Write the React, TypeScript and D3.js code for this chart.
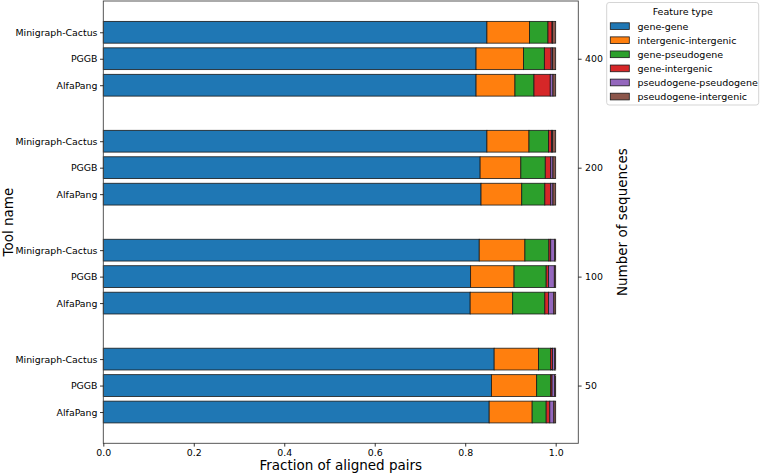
import React, { useRef, useEffect } from "react";
import * as d3 from "d3";

// rows from top to bottom: 400, 200, 100, 50 sequences; each with MC, PGGB, AlfaPang
const sequenceCounts = [400, 200, 100, 50];
const tools = ["Minigraph-Cactus", "PGGB", "AlfaPang"];
const featureTypes = [
  "gene-gene",
  "intergenic-intergenic",
  "gene-pseudogene",
  "gene-intergenic",
  "pseudogene-pseudogene",
  "pseudogene-intergenic",
];
const colors = ["#1f77b4", "#ff7f0e", "#2ca02c", "#d62728", "#9467bd", "#8c564b"];

const geneGene = [0.848, 0.824, 0.824, 0.848, 0.833, 0.835, 0.831, 0.812, 0.811, 0.864, 0.858, 0.853];
const interInter = [0.094, 0.105, 0.086, 0.093, 0.09, 0.09, 0.101, 0.096, 0.094, 0.098, 0.1, 0.095];
const genePseudo = [0.041, 0.046, 0.042, 0.043, 0.054, 0.051, 0.053, 0.071, 0.071, 0.027, 0.031, 0.031];
const geneInter = [0.009, 0.015, 0.036, 0.007, 0.012, 0.013, 0.004, 0.005, 0.008, 0.004, 0.003, 0.008];
const pseudoPseudo = [0.001, 0.003, 0.006, 0.002, 0.005, 0.005, 0.009, 0.013, 0.012, 0.005, 0.006, 0.009];
const pseudoInter = [0.007, 0.007, 0.006, 0.007, 0.006, 0.006, 0.002, 0.003, 0.004, 0.002, 0.002, 0.004];

const xTicks = [0, 0.2, 0.4, 0.6, 0.8, 1.0];

const FONT = "DejaVu Sans, sans-serif";

const App: React.FC = () => {
  const svgRef = useRef<SVGSVGElement>(null);

  useEffect(() => {
    if (!svgRef.current) return;
    const svg = d3.select(svgRef.current);
    svg.selectAll("*").remove();

    const left = 103.3;
    const right = 578.3;
    const top = 1;
    const bottom = 443.3;

    const x = d3.scaleLinear().domain([0, 1.05]).range([left, right]);
    // group index: 0 -> 50 ... 3 -> 400; bars offset by tool
    const y = d3.scaleLinear().domain([-0.53, 3.53]).range([bottom, top]);
    const offsets = [0.243, 0, -0.243];
    const barH = 0.2;

    const rows = sequenceCounts.flatMap((n, g) =>
      tools.map((t, i) => {
        const k = g * tools.length + i;
        return {
          count: n,
          tool: t,
          pos: sequenceCounts.length - 1 - g + offsets[i],
          "gene-gene": geneGene[k],
          "intergenic-intergenic": interInter[k],
          "gene-pseudogene": genePseudo[k],
          "gene-intergenic": geneInter[k],
          "pseudogene-pseudogene": pseudoPseudo[k],
          "pseudogene-intergenic": pseudoInter[k],
        } as any;
      })
    );

    const stack = d3.stack<any>().keys(featureTypes)(rows);
    const h = y(0) - y(barH);

    stack.forEach((layer, li) => {
      svg
        .append("g")
        .selectAll("rect")
        .data(layer)
        .enter()
        .append("rect")
        .attr("x", (d) => x(d[0]))
        .attr("width", (d) => x(d[1]) - x(d[0]))
        .attr("y", (d) => y(d.data.pos + barH / 2))
        .attr("height", h)
        .attr("fill", colors[li])
        .attr("stroke", "#1a1a1a")
        .attr("stroke-width", 0.8);
    });

    // frame
    svg
      .append("rect")
      .attr("x", left)
      .attr("y", top)
      .attr("width", right - left)
      .attr("height", bottom - top)
      .attr("fill", "none")
      .attr("stroke", "#444")
      .attr("stroke-width", 0.9);

    // x axis
    const xAxis = svg
      .append("g")
      .attr("transform", `translate(0,${bottom})`)
      .call(d3.axisBottom(x).tickValues(xTicks).tickFormat(d3.format(".1f")).tickSize(3.3).tickPadding(3));
    xAxis.select(".domain").remove();

    // left axis with tool names
    const leftAxis = svg
      .append("g")
      .attr("transform", `translate(${left},0)`)
      .call(
        d3
          .axisLeft(y)
          .tickValues(rows.map((r: any) => r.pos))
          .tickFormat((_, i) => rows[i].tool)
          .tickSize(3.3)
          .tickPadding(2.5)
      );
    leftAxis.select(".domain").remove();

    // right axis with sequence counts
    const rightAxis = svg
      .append("g")
      .attr("transform", `translate(${right},0)`)
      .call(
        d3
          .axisRight(y)
          .tickValues(sequenceCounts.map((_, g) => sequenceCounts.length - 1 - g))
          .tickFormat((_, i) => String(sequenceCounts[i]))
          .tickSize(3.3)
          .tickPadding(3.5)
      );
    rightAxis.select(".domain").remove();

    svg
      .selectAll(".tick text")
      .attr("font-family", FONT)
      .attr("font-size", 9.4)
      .attr("fill", "#000");
    svg.selectAll(".tick line").attr("stroke", "#000").attr("stroke-width", 0.8);

    // axis labels
    svg
      .append("text")
      .attr("x", (left + right) / 2)
      .attr("y", 470)
      .attr("text-anchor", "middle")
      .attr("font-family", FONT)
      .attr("font-size", 13.5)
      .text("Fraction of aligned pairs");

    svg
      .append("text")
      .attr("transform", `translate(12.5,${(top + bottom) / 2}) rotate(-90)`)
      .attr("text-anchor", "middle")
      .attr("font-family", FONT)
      .attr("font-size", 13.5)
      .text("Tool name");

    svg
      .append("text")
      .attr("transform", `translate(627,${(top + bottom) / 2}) rotate(-90)`)
      .attr("text-anchor", "middle")
      .attr("font-family", FONT)
      .attr("font-size", 13.5)
      .text("Number of sequences");

    // legend
    const lg = svg.append("g");
    lg.append("rect")
      .attr("x", 606.7)
      .attr("y", 2.5)
      .attr("width", 152)
      .attr("height", 102.5)
      .attr("rx", 2.5)
      .attr("fill", "#fff")
      .attr("fill-opacity", 0.8)
      .attr("stroke", "#d0d0d0")
      .attr("stroke-width", 0.9);
    lg.append("text")
      .attr("x", 682.7)
      .attr("y", 15)
      .attr("text-anchor", "middle")
      .attr("font-family", FONT)
      .attr("font-size", 9.5)
      .text("Feature type");
    const item = lg
      .selectAll("g.item")
      .data(featureTypes)
      .enter()
      .append("g")
      .attr("class", "item")
      .attr("transform", (_, i) => `translate(0,${26.3 + i * 14.08})`);
    item
      .append("rect")
      .attr("x", 610.3)
      .attr("y", -3.5)
      .attr("width", 19)
      .attr("height", 6.7)
      .attr("fill", (_, i) => colors[i])
      .attr("stroke", "#1a1a1a")
      .attr("stroke-width", 0.8);
    item
      .append("text")
      .attr("x", 637.5)
      .attr("y", 3.4)
      .attr("font-family", FONT)
      .attr("font-size", 9.5)
      .text((d) => d);
  }, []);

  return (
    <svg
      ref={svgRef}
      width={762}
      height={475}
      style={{ position: "absolute", left: 0, top: 0, background: "#fff" }}
    ></svg>
  );
};

export default App;
